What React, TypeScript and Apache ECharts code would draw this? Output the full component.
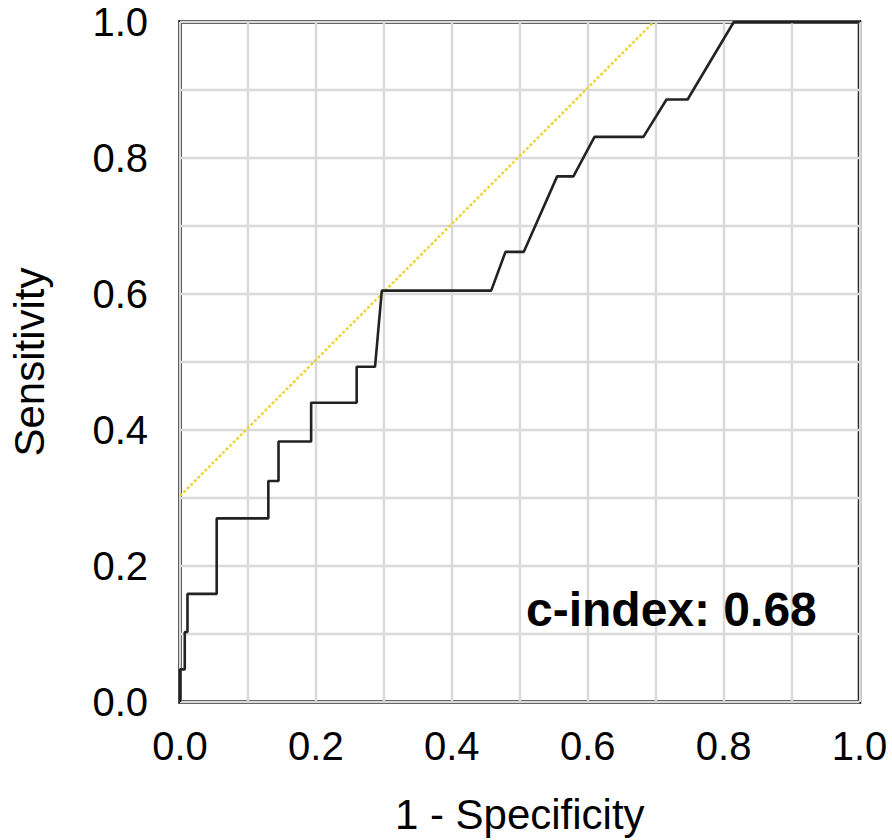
import React, { useEffect, useRef } from "react";
import * as echarts from "echarts";

// ROC step curve: [1 - specificity, sensitivity]
const rocX = [0, 0, 0.007, 0.007, 0.011, 0.011, 0.054, 0.054, 0.13, 0.13, 0.145, 0.145, 0.193, 0.193, 0.26, 0.26, 0.287, 0.297, 0.458, 0.479, 0.506, 0.555, 0.579, 0.61, 0.682, 0.716, 0.747, 0.815, 1.0];
const rocY = [0, 0.048, 0.048, 0.103, 0.103, 0.159, 0.159, 0.27, 0.27, 0.325, 0.325, 0.383, 0.383, 0.44, 0.44, 0.493, 0.493, 0.605, 0.605, 0.662, 0.662, 0.773, 0.773, 0.831, 0.831, 0.886, 0.886, 1.0, 1.0];

// Reference (yellow dotted) line
const refX = [0, 0.697];
const refY = [0.303, 1.0];

const tickLabels = ["0.0", "0.2", "0.4", "0.6", "0.8", "1.0"];
const xTitle = "1 - Specificity";
const yTitle = "Sensitivity";
const cIndexText = "c-index: 0.68";

const FONT = "'Liberation Sans', Arial, Helvetica, sans-serif";

export default function App() {
  const ref = useRef<HTMLDivElement>(null);

  useEffect(() => {
    if (!ref.current) return;
    const chart = echarts.init(ref.current, undefined, { renderer: "svg" });
    const fmt = (v: number) => {
      const i = Math.round(v * 5);
      return tickLabels[i] ?? "";
    };
    const grid = { color: "#d9d9d9", width: 2.4 };
    const axisCommon = {
      type: "value" as const,
      min: 0,
      max: 1,
      interval: 0.2,
      axisLine: { show: false },
      axisTick: { show: false },
      splitLine: { show: true, lineStyle: grid },
      minorTick: { show: false, splitNumber: 2 },
      minorSplitLine: { show: true, lineStyle: grid },
      nameLocation: "middle" as const,
      nameTextStyle: { fontFamily: FONT, fontSize: 42, color: "#000" },
    };
    chart.setOption({
      animation: false,
      backgroundColor: "#fff",
      grid: {
        left: 177.5,
        right: 32.5,
        top: 22,
        bottom: 135,
        show: true,
        borderColor: "#000",
        borderWidth: 3.5,
        backgroundColor: "transparent",
      },
      xAxis: {
        ...axisCommon,
        name: xTitle,
        nameGap: 91,
        axisLabel: { formatter: fmt, margin: 24, fontFamily: FONT, fontSize: 40, color: "#000" },
      },
      yAxis: {
        ...axisCommon,
        name: yTitle,
        nameGap: 130,
        nameRotate: 90,
        axisLabel: { formatter: fmt, margin: 32, fontFamily: FONT, fontSize: 40, color: "#000" },
      },
      series: [
        {
          type: "line",
          data: refX.map((x, i) => [x, refY[i]]),
          showSymbol: false,
          symbol: "none",
          lineStyle: { color: "#e8d632", width: 2.4, type: [3, 2] },
          z: 2,
        },
        {
          type: "line",
          data: rocX.map((x, i) => [x, rocY[i]]),
          showSymbol: false,
          symbol: "none",
          clip: false,
          lineStyle: { color: "#222222", width: 2.6 },
          z: 3,
        },
      ],
      graphic: [
        {
          type: "text",
          left: 526,
          top: 585,
          style: {
            text: cIndexText,
            font: `bold 48px ${FONT}`,
            fill: "#000",
          },
          z: 10,
        },
      ],
    });
    return () => chart.dispose();
  }, []);

  return (
    <div
      ref={ref}
      style={{ position: "fixed", left: 0, top: 0, width: 892, height: 840, background: "#fff" }}
    />
  );
}
